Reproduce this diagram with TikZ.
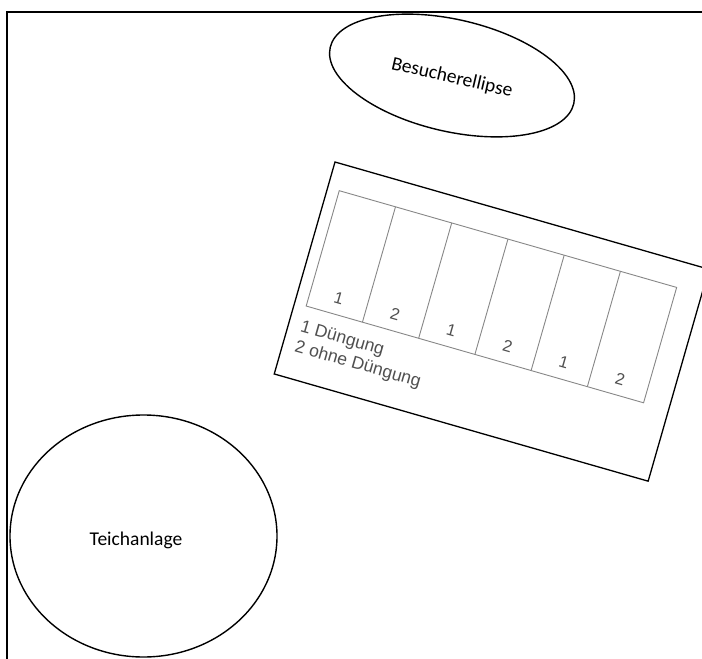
\documentclass[tikz,border=0pt]{standalone}
\usepackage{fontspec}
\setmainfont{Liberation Sans}
\newfontfamily\calfont{Carlito}
\usetikzlibrary{shapes.geometric}
\definecolor{gridgray}{RGB}{135,135,135}
\definecolor{textgray}{RGB}{80,80,80}
\tikzset{
  framestyle/.style={line width=1.8pt, black},
  bedframe/.style={line width=1.3pt, black},
  gridline/.style={line width=0.9pt, gridgray},
  areashape/.style={ellipse, draw, line width=1.4pt, inner sep=0pt},
  arealabel/.style={font=\calfont\fontsize{19.5}{22}\selectfont, inner sep=0pt},
  plotnum/.style={font=\fontsize{16.5}{19}\selectfont, text=textgray, inner sep=0pt},
  legendtext/.style={font=\fontsize{17.6}{20.7}\selectfont, text=textgray, inner sep=0pt, align=left, anchor=base west}
}
\begin{document}
\begin{tikzpicture}[x=1pt,y=1pt]
\useasboundingbox (0,0) rectangle (702,-659);
\clip (0,0) rectangle (702,-659);
\fill[white] (0,0) rectangle (702,-659);
% outer frame (extends past right and bottom edges)
\draw[framestyle] (7,-690) -- (7,-12) -- (730,-12);
% visitor ellipse
\node[areashape, minimum width=250pt, minimum height=112pt, rotate=-13] (besucher) at (452,-75.5) {};
\node[arealabel, rotate=-13] (besucherlabel) at (452,-78) {Besucherellipse};
% pond
\node[areashape, minimum width=267pt, minimum height=242pt] (teich) at (143.5,-536) {};
\node[arealabel] (teichlabel) at (136,-540) {Teichanlage};
% rotated field plan
\begin{scope}[shift={(335,-162)}, rotate=-16, transform shape]
  \draw[bedframe] (0,0) rectangle (389,-220.5);
  \draw[gridline] (12,-26.4) rectangle (363,-146.4);
  \foreach \k in {1,...,5} {
    \draw[gridline] ({12+58.5*\k},-26.4) -- ({12+58.5*\k},-146.4);
  }
  \foreach \k/\lab in {0/1,1/2,2/1,3/2,4/1,5/2} {
    \node[plotnum] (num\k) at ({12+58.5*(\k+0.5)},-129.8) {\lab};
  }
  % base anchor of a multi-line node is the last line's baseline
  \node[legendtext] (legend) at (12.5,-193.3) {1 Düngung\\2 ohne Düngung};
\end{scope}
\end{tikzpicture}
\end{document}
